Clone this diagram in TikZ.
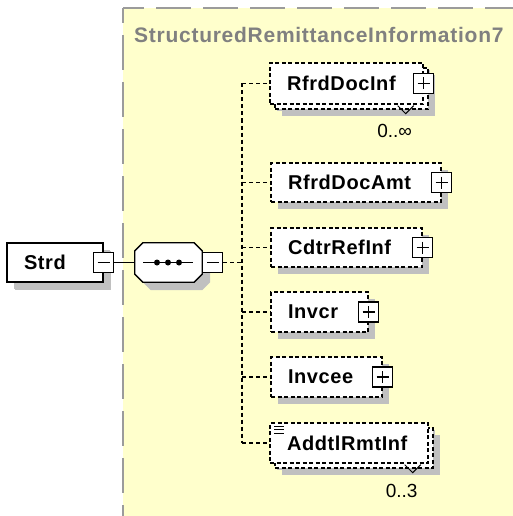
\documentclass[tikz,border=0pt]{standalone}
\usepackage{fontspec}
\setmainfont{Liberation Sans}
\newfontfamily\lblfont{Liberation Sans}[LetterSpace=3]
\newfontfamily\ttlfont{Liberation Sans}[LetterSpace=3.5]
\usetikzlibrary{shadows}
\definecolor{bgyellow}{RGB}{255,255,204}
\definecolor{shadowgray}{RGB}{192,192,192}
\definecolor{titlegray}{RGB}{128,128,128}
\definecolor{bordergray}{RGB}{155,155,155}
\begin{document}
\begin{tikzpicture}[x=1pt,y=-1pt,
  elem/.style={draw, fill=white, line width=1.3pt, minimum height=40pt,
    inner xsep=17pt, inner ysep=0pt, align=left,
    font=\lblfont\bfseries\fontsize{20}{24}\selectfont,
    drop shadow={shadow xshift=7pt, shadow yshift=-7pt, fill=shadowgray, opacity=1}},
  optelem/.style={elem, dash pattern=on 4pt off 2.5pt},
  multelem/.style={optelem,
    drop shadow={shadow xshift=12pt, shadow yshift=-12pt, fill=shadowgray, opacity=1},
    copy shadow={shadow xshift=5pt, shadow yshift=-5pt, draw, fill=white,
      line width=1.3pt, dash pattern=on 4pt off 2.5pt}},
  pm/.style={draw, fill=white, solid, line width=1.2pt, minimum size=20pt, inner sep=0pt},
  minusbox/.style={pm, path picture={\draw[line width=1.2pt]
      ([xshift=4pt]path picture bounding box.west) -- ([xshift=-4pt]path picture bounding box.east);}},
  plusbox/.style={pm, path picture={\draw[line width=1.2pt]
      ([xshift=4pt]path picture bounding box.west) -- ([xshift=-4pt]path picture bounding box.east)
      ([yshift=-4pt]path picture bounding box.north) -- ([yshift=4pt]path picture bounding box.south);}},
  conn/.style={line width=1.3pt, dash pattern=on 4pt off 3pt},
  occ/.style={font=\fontsize{19}{22}\selectfont, inner sep=0pt},
  marker/.style={line width=1pt}
]
\useasboundingbox (0,0) rectangle (513,516);
% background region
\fill[bgyellow] (123,8) rectangle (513,516);
\draw[bordergray, line width=2pt, dash pattern=on 35pt off 12pt, dash phase=20pt] (123,8) -- (123,516);
\draw[bordergray, line width=2pt, dash pattern=on 35pt off 12pt, dash phase=14pt] (123,8) -- (513,8);
\node[anchor=west, text=titlegray, font=\ttlfont\bfseries\fontsize{21}{25}\selectfont, inner sep=0pt]
  (title) at (134,35) {StructuredRemittanceInformation7};

% Strd
\node[elem, text width=62pt, minimum height=39pt,
  drop shadow={shadow xshift=8pt, shadow yshift=-8pt, fill=shadowgray, opacity=1}]
  (strd) at (55,262.5) {Strd};
\node[minusbox] (strdm) at (strd.east) {};

% sequence compositor
\node[minimum width=67pt, minimum height=39pt, inner sep=0pt] (seq) at (168.5,262.5) {};
\fill[shadowgray]
  ([shift={(8,16)}]seq.north west) -- ([shift={(16,8)}]seq.north west) --
  ([shift={(0,8)}]seq.north east) -- ([shift={(8,16)}]seq.north east) --
  ([shift={(8,0)}]seq.south east) -- ([shift={(0,8)}]seq.south east) --
  ([shift={(16,8)}]seq.south west) -- ([shift={(8,0)}]seq.south west) -- cycle;
\draw[fill=white, line width=1.3pt]
  ([shift={(0,8)}]seq.north west) -- ([shift={(8,0)}]seq.north west) --
  ([shift={(-8,0)}]seq.north east) -- ([shift={(0,8)}]seq.north east) --
  ([shift={(0,-8)}]seq.south east) -- ([shift={(-8,0)}]seq.south east) --
  ([shift={(8,0)}]seq.south west) -- ([shift={(0,-8)}]seq.south west) -- cycle;
\draw[line width=1.3pt] ([shift={(-25.5,0)}]seq.center) -- ([shift={(24.5,0)}]seq.center);
\foreach \dx in {-11.5,-0.5,10.5}
  \fill ([shift={(\dx,0)}]seq.center) circle[radius=3pt];
\node[minusbox, anchor=west] (seqm) at (seq.east) {};

% children
\node[multelem, text width=119pt, minimum height=41pt] (rfrddocinf) at (346.5,83.5) {RfrdDocInf};
\node[optelem, text width=136pt, minimum height=39pt] (rfrddocamt) at (356,182.5) {RfrdDocAmt};
\node[optelem, text width=117pt, minimum height=39pt] (cdtrrefinf) at (346.5,247.5) {CdtrRefInf};
\node[optelem, text width=63pt] (invcr) at (319.5,312) {Invcr};
\node[optelem, text width=77pt] (invcee) at (326.5,377) {Invcee};
\node[multelem, text width=124pt] (addtlrmtinf) at (349,443) {AddtlRmtInf};

\node[plusbox] (rfrddocinfp) at (rfrddocinf.east) {};
\node[plusbox] (rfrddocamtp) at (rfrddocamt.east) {};
\node[plusbox] (cdtrrefinfp) at (cdtrrefinf.east) {};
\node[plusbox] (invcrp) at (invcr.east) {};
\node[plusbox] (invceep) at (invcee.east) {};

% mixed content icon
\foreach \dy in {4,7.5,11}
  \draw[line width=1pt] ([shift={(5,\dy)}]addtlrmtinf.north west) -- ([shift={(15,\dy)}]addtlrmtinf.north west);

% occurrence markers
\draw[marker] ([shift={(-26,1)}]rfrddocinf.south east) -- ([shift={(-18,9)}]rfrddocinf.south east) -- ([shift={(-10,1)}]rfrddocinf.south east);
\node[occ] (occ1) at ([shift={(-29,26)}]rfrddocinf.south east) {0..\char"221E};
\draw[marker] ([shift={(-24,1)}]addtlrmtinf.south east) -- ([shift={(-16,9)}]addtlrmtinf.south east) -- ([shift={(-8,1)}]addtlrmtinf.south east);
\node[occ] (occ2) at ([shift={(-27,27)}]addtlrmtinf.south east) {0..3};

% connectors
\coordinate (trunk) at (242,262.5);
\draw[line width=1.3pt] (strdm.east) -- (seq.west);
\draw[conn] (seqm.east) -- (trunk);
\draw[conn] (rfrddocinf.west -| trunk) -- (addtlrmtinf.west -| trunk);
\foreach \n in {rfrddocinf,rfrddocamt,cdtrrefinf,invcr,invcee,addtlrmtinf}
  \draw[conn] (\n.west -| trunk) -- (\n.west);
\end{tikzpicture}
\end{document}
